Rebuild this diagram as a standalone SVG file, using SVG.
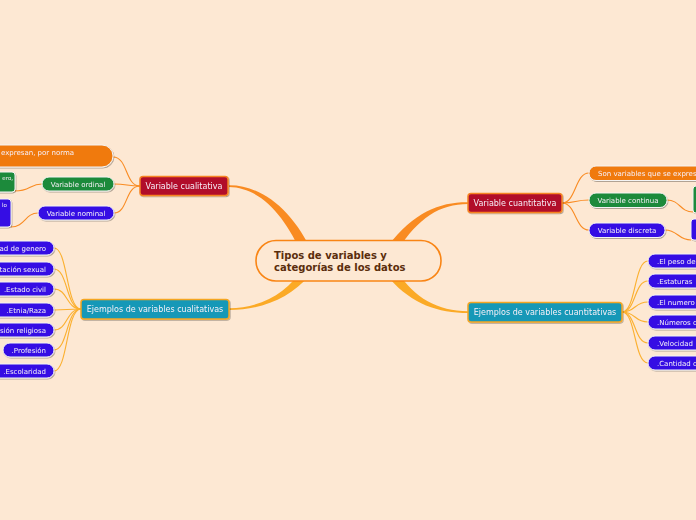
<svg xmlns="http://www.w3.org/2000/svg" width="696" height="520" viewBox="0 0 696 520">
<defs>
<filter id="sh" x="-20%" y="-30%" width="140%" height="170%"><feDropShadow dx="0.8" dy="1" stdDeviation="0.7" flood-color="#000" flood-opacity="0.3"/></filter>
<style>
.t{font-family:"DejaVu Sans",Verdana,sans-serif;fill:#f6f0f8}
.s{font-size:7px}
.m{font-size:8px}
.c1{fill:none;stroke:#F98B22;stroke-width:1.1}
.c2{fill:none;stroke:#FBB030;stroke-width:1.1}
.blue{fill:#3510E4;stroke:#f4f4f4;stroke-width:1}
.green{fill:#1F8A3B;stroke:#f4f4f4;stroke-width:1}
.orange{fill:#F07A10;stroke:#f4f4f4;stroke-width:1}
.red{fill:#B10C2B;stroke:#F68424;stroke-width:1.5}
.teal{fill:#1598B7;stroke:#F5A623;stroke-width:1.5}
</style>
</defs>
<rect width="696" height="520" fill="#FDE8D3"/>
<g id="connectors">
<path d="M229,185.3 C263,185 294,212 313,254 L303,257 C286,217 261,187.5 229,187 Z" fill="#F98B22"/>
<path d="M229,308.3 C262,308 288,292 303,268 L310,275 C290,298 262,310 229,310 Z" fill="#FBAA26"/>
<path d="M468,202.3 C440,202 414,212 388,246 L398,250 C418,218 440,204 468,204 Z" fill="#F98B22"/>
<path d="M468,311.3 C438,311 414,298 398,272 L390,279 C412,304 438,313 468,313 Z" fill="#FBAA26"/>
<path class="c1" d="M140,186 C125,186 128,157 113,157"/>
<path class="c1" d="M140,186 C127,186 127,184 114,184"/>
<path class="c1" d="M140,186 C125,186 128,213 114,213"/>
<path class="c1" d="M42,184 C30,184 30,191 15,191"/>
<path class="c1" d="M38,213 C25,213 25,227 11,227"/>
<path class="c2" d="M81,309 C66,309 68,248 54,248"/>
<path class="c2" d="M81,309 C66,309 68,269 54,269"/>
<path class="c2" d="M81,309 C66,309 68,289 54,289"/>
<path class="c2" d="M81,309 C66,309 68,310 54,310"/>
<path class="c2" d="M81,309 C66,309 68,330 54,330"/>
<path class="c2" d="M81,309 C66,309 68,350 54,350"/>
<path class="c2" d="M81,309 C66,309 68,371 54,371"/>
<path class="c1" d="M562,203 C576,203 575,173 589,173"/>
<path class="c1" d="M562,203 C576,203 575,200 589,200"/>
<path class="c1" d="M562,203 C576,203 575,230 589,230"/>
<path class="c1" d="M667,200 C680,200 680,212 693,212"/>
<path class="c1" d="M665,230 C678,230 678,240 691,240"/>
<path class="c2" d="M622,312 C636,312 634,261 648,261"/>
<path class="c2" d="M622,312 C636,312 634,281 648,281"/>
<path class="c2" d="M622,312 C636,312 634,302 648,302"/>
<path class="c2" d="M622,312 C636,312 634,322 648,322"/>
<path class="c2" d="M622,312 C636,312 634,343 648,343"/>
<path class="c2" d="M622,312 C636,312 634,363 648,363"/>
</g>
<g id="central">
<rect x="256" y="240.5" width="185" height="40.5" rx="20" fill="#FDE8D3" stroke="#F98515" stroke-width="1.6"/>
<text x="274" y="259" font-family="'DejaVu Sans',Verdana,sans-serif" font-weight="bold" font-size="10" fill="#5A2D0C">Tipos de variables y</text>
<text x="274" y="271" font-family="'DejaVu Sans',Verdana,sans-serif" font-weight="bold" font-size="10" fill="#5A2D0C">categorías de los datos</text>
</g>
<g id="variable-cualitativa" filter="url(#sh)">
<rect class="red" x="140" y="176.5" width="88" height="19" rx="3"/>
<text class="t m" x="184" y="189" text-anchor="middle">Variable cualitativa</text>
</g>
<g id="cualitativa-def" filter="url(#sh)">
<rect class="orange" x="-20" y="145" width="133" height="22" rx="11"/>
<text class="t s" x="1" y="154.5">expresan, por norma</text>
</g>
<g id="variable-ordinal" filter="url(#sh)">
<rect class="green" x="42" y="177" width="72" height="14" rx="7"/>
<text class="t s" x="78" y="186.5" text-anchor="middle">Variable ordinal</text>
</g>
<g id="ordinal-def" filter="url(#sh)">
<rect class="green" x="-10" y="172" width="25" height="20" rx="3"/>
<text class="t" font-size="5.5" x="13" y="180" text-anchor="end">ero,</text>
</g>
<g id="variable-nominal" filter="url(#sh)">
<rect class="blue" x="38" y="206" width="76" height="14" rx="7"/>
<text class="t s" x="76" y="215.5" text-anchor="middle">Variable nominal</text>
</g>
<g id="nominal-def" filter="url(#sh)">
<rect class="blue" x="-10" y="199" width="21" height="28" rx="3"/>
<text class="t" font-size="5.5" x="7" y="207" text-anchor="end">lo</text>
</g>
<g id="ejemplos-cualitativas" filter="url(#sh)">
<rect class="teal" x="81" y="299.5" width="148" height="19.5" rx="3"/>
<text class="t m" x="155" y="312" text-anchor="middle">Ejemplos de variables cualitativas</text>
</g>
<g id="ej-genero" filter="url(#sh)"><rect class="blue" x="-10" y="241" width="64" height="14" rx="7"/><text class="t s" x="46" y="250.5" text-anchor="end">ad de genero</text></g>
<g id="ej-orientacion" filter="url(#sh)"><rect class="blue" x="-10" y="262" width="64" height="14" rx="7"/><text class="t s" x="46" y="271.5" text-anchor="end">tación sexual</text></g>
<g id="ej-estado" filter="url(#sh)"><rect class="blue" x="-10" y="282" width="64" height="14" rx="7"/><text class="t s" x="46" y="291.5" text-anchor="end">.Estado civil</text></g>
<g id="ej-etnia" filter="url(#sh)"><rect class="blue" x="-10" y="303" width="64" height="14" rx="7"/><text class="t s" x="46" y="312.5" text-anchor="end">.Etnia/Raza</text></g>
<g id="ej-religion" filter="url(#sh)"><rect class="blue" x="-10" y="323" width="64" height="14" rx="7"/><text class="t s" x="46" y="332.5" text-anchor="end">sión religiosa</text></g>
<g id="ej-profesion" filter="url(#sh)"><rect class="blue" x="3" y="343" width="51" height="14" rx="7"/><text class="t s" x="46" y="352.5" text-anchor="end">.Profesión</text></g>
<g id="ej-escolaridad" filter="url(#sh)"><rect class="blue" x="-10" y="364" width="64" height="14" rx="7"/><text class="t s" x="46" y="373.5" text-anchor="end">.Escolaridad</text></g>
<g id="variable-cuantitativa" filter="url(#sh)">
<rect class="red" x="468" y="193.5" width="94" height="19" rx="3"/>
<text class="t m" x="515" y="206" text-anchor="middle">Variable cuantitativa</text>
</g>
<g id="cuantitativa-def" filter="url(#sh)">
<rect class="orange" x="589" y="166" width="130" height="14.5" rx="7"/>
<text class="t s" x="598" y="175.8">Son variables que se expres</text>
</g>
<g id="variable-continua" filter="url(#sh)">
<rect class="green" x="589" y="193" width="78" height="14.5" rx="7"/>
<text class="t s" x="628" y="202.8" text-anchor="middle">Variable continua</text>
</g>
<g id="continua-def" filter="url(#sh)"><rect class="green" x="693" y="186" width="25" height="27" rx="3"/></g>
<g id="variable-discreta" filter="url(#sh)">
<rect class="blue" x="589" y="223" width="76" height="14.5" rx="7"/>
<text class="t s" x="627" y="232.8" text-anchor="middle">Variable discreta</text>
</g>
<g id="discreta-def" filter="url(#sh)"><rect class="blue" x="691" y="219" width="25" height="21" rx="3"/></g>
<g id="ejemplos-cuantitativas" filter="url(#sh)">
<rect class="teal" x="468" y="302.5" width="154" height="19.5" rx="3"/>
<text class="t m" x="545" y="315" text-anchor="middle">Ejemplos de variables cuantitativas</text>
</g>
<g id="ejq-peso" filter="url(#sh)"><rect class="blue" x="648" y="254" width="70" height="14" rx="7"/><text class="t s" x="657" y="263.5">.El peso de</text></g>
<g id="ejq-estaturas" filter="url(#sh)"><rect class="blue" x="648" y="274" width="70" height="14" rx="7"/><text class="t s" x="657" y="283.5">.Estaturas</text></g>
<g id="ejq-numero" filter="url(#sh)"><rect class="blue" x="648" y="295" width="70" height="14" rx="7"/><text class="t s" x="657" y="304.5">.El numero</text></g>
<g id="ejq-numeros" filter="url(#sh)"><rect class="blue" x="648" y="315" width="70" height="14" rx="7"/><text class="t s" x="657" y="324.5">.Números d</text></g>
<g id="ejq-velocidad" filter="url(#sh)"><rect class="blue" x="648" y="336" width="70" height="14" rx="7"/><text class="t s" x="657" y="345.5">.Velocidad</text></g>
<g id="ejq-cantidad" filter="url(#sh)"><rect class="blue" x="648" y="356" width="70" height="14" rx="7"/><text class="t s" x="657" y="365.5">.Cantidad d</text></g>
</svg>
